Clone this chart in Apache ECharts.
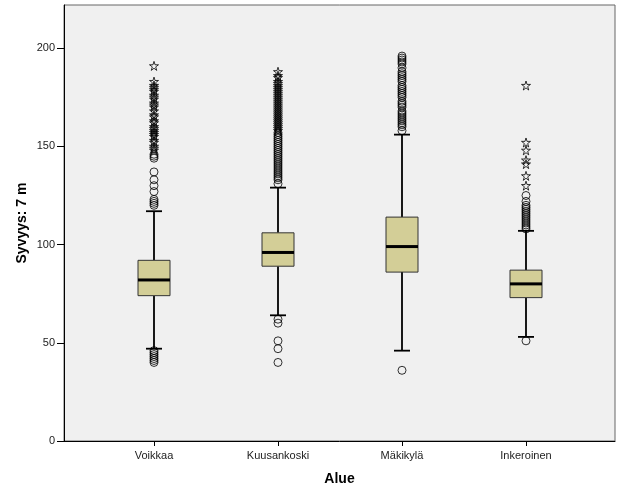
<!DOCTYPE html>
<html><head><meta charset="utf-8">
<script src="https://cdn.jsdelivr.net/npm/echarts@6/dist/echarts.min.js"></script>
<style>html,body{margin:0;padding:0;background:#fff}#c{width:626px;height:501px}</style>
</head><body><div id="c"></div>
<script>
const categories = ['Voikkaa', 'Kuusankoski', 'Mäkikylä', 'Inkeroinen'];
// [lower whisker, Q1, median, Q3, upper whisker]
const boxStats = [
  [47, 74, 82, 92, 117],
  [64, 89, 96, 106, 129],
  [46, 86, 99, 114, 156],
  [53, 73, 80, 87, 107]
];
const outliersCircle = [
  [40, 41, 42, 43, 44, 45, 46, 120, 121, 122, 123, 127, 130, 133, 137, 144, 145, 146],
  [40, 47, 51, 60, 62, 131, 133, 134, 135, 136, 137, 138, 139, 140, 141, 142, 143, 144, 145, 146, 147, 148, 149, 150, 151, 152, 153, 154, 155, 156, 157],
  [36, 158, 160, 161, 162, 163, 164, 165, 166, 167, 168, 170, 171, 172, 173, 175, 176, 177, 178, 179, 180, 181, 183, 184, 185, 186, 187, 188, 190, 192, 193, 194, 195, 196],
  [51, 108, 109, 110, 111, 112, 113, 114, 115, 116, 117, 118, 119, 120, 122, 125]
];
const outliersStar = [
  [148, 149, 150, 152, 153, 155, 156, 157, 158, 159, 160, 162, 163, 165, 166, 168, 170, 171, 172, 174, 175, 176, 178, 179, 180, 181, 183, 191],
  [158, 159, 160, 161, 162, 163, 164, 165, 166, 167, 168, 169, 170, 171, 172, 173, 174, 175, 176, 177, 178, 179, 180, 181, 182, 183, 185, 186, 188],
  [],
  [130, 135, 141, 143, 148, 152, 181]
];
const yTicks = [0, 50, 100, 150, 200];
const yMax = 222;

const boxData = boxStats.map((s, i) => [i].concat(s));
const circleData = [], starData = [];
outliersCircle.forEach((arr, i) => arr.forEach(v => circleData.push([i, v])));
outliersStar.forEach((arr, i) => arr.forEach(v => starData.push([i, v])));

const FONT = 'Liberation Sans, Arial, sans-serif';
const starPath = 'path://M50,2 L61,37 L98,37 L68,59 L79,95 L50,73 L21,95 L32,59 L2,37 L39,37 Z';

const chart = echarts.init(document.getElementById('c'), null, {renderer: 'canvas'});
chart.setOption({
  animation: false,
  backgroundColor: '#ffffff',
  grid: [
    {left: 64, right: 11, top: 5, bottom: 60, show: true, backgroundColor: '#f0f0f0', borderColor: '#666', borderWidth: 1},
    {left: 92, right: 38, top: 5, bottom: 60, show: false}
  ],
  xAxis: [
    {gridIndex: 0, type: 'value', min: 0, max: 1, axisLine: {show: true, lineStyle: {color: '#000', width: 1}},
     axisTick: {show: false}, axisLabel: {show: false}, splitLine: {show: false},
     name: 'Alue', nameLocation: 'middle', nameGap: 31,
     nameTextStyle: {fontFamily: FONT, fontSize: 14, fontWeight: 'bold', color: '#000'}},
    {gridIndex: 1, type: 'category', data: categories, boundaryGap: true,
     axisLine: {show: false}, axisTick: {show: true, alignWithLabel: true, length: 5, inside: false, lineStyle: {color: '#000'}},
     axisLabel: {fontFamily: FONT, fontSize: 11, color: '#222', margin: 9}, splitLine: {show: false}}
  ],
  yAxis: [
    {gridIndex: 0, type: 'value', min: 0, max: yMax,
     axisLine: {show: true, lineStyle: {color: '#000', width: 1}},
     axisTick: {show: true, length: 7, lineStyle: {color: '#000'}, customValues: yTicks},
     axisLabel: {fontFamily: FONT, fontSize: 11, color: '#222', margin: 9, customValues: yTicks},
     splitLine: {show: false},
     name: 'Syvyys: 7 m', nameLocation: 'middle', nameGap: 35, nameMoveOverlap: false,
     nameTextStyle: {fontFamily: FONT, fontSize: 14, fontWeight: 'bold', color: '#000'}},
    {gridIndex: 1, type: 'value', min: 0, max: yMax, show: false}
  ],
  series: [
    {
      type: 'custom', xAxisIndex: 1, yAxisIndex: 1, data: boxData,
      encode: {x: 0, y: [1, 2, 3, 4, 5]},
      renderItem: function (params, api) {
        const cx = api.coord([api.value(0), 0])[0];
        const y = k => api.coord([api.value(0), api.value(k)])[1];
        const yMin = y(1), yQ1 = y(2), yMed = y(3), yQ3 = y(4), yMx = y(5);
        const bw = 32, cw = 16;
        const ls = {stroke: '#000', lineWidth: 1.8};
        return {type: 'group', children: [
          {type: 'line', shape: {x1: cx, y1: yQ3, x2: cx, y2: yMx}, style: ls},
          {type: 'line', shape: {x1: cx, y1: yQ1, x2: cx, y2: yMin}, style: ls},
          {type: 'line', shape: {x1: cx - cw / 2, y1: yMx, x2: cx + cw / 2, y2: yMx}, style: ls},
          {type: 'line', shape: {x1: cx - cw / 2, y1: yMin, x2: cx + cw / 2, y2: yMin}, style: ls},
          {type: 'rect', shape: {x: cx - bw / 2, y: yQ3, width: bw, height: yQ1 - yQ3},
           style: {fill: '#d3ce97', stroke: '#333', lineWidth: 1}},
          {type: 'line', shape: {x1: cx - bw / 2, y1: yMed, x2: cx + bw / 2, y2: yMed}, style: {stroke: '#000', lineWidth: 3}}
        ]};
      }
    },
    {
      type: 'scatter', xAxisIndex: 1, yAxisIndex: 1, data: circleData,
      symbol: 'circle', symbolSize: 8,
      itemStyle: {color: 'rgba(0,0,0,0)', borderColor: '#000', borderWidth: 1}
    },
    {
      type: 'scatter', xAxisIndex: 1, yAxisIndex: 1, data: starData,
      symbol: starPath, symbolSize: 9,
      itemStyle: {color: 'rgba(0,0,0,0)', borderColor: '#000', borderWidth: 1}
    }
  ]
});
</script></body></html>
